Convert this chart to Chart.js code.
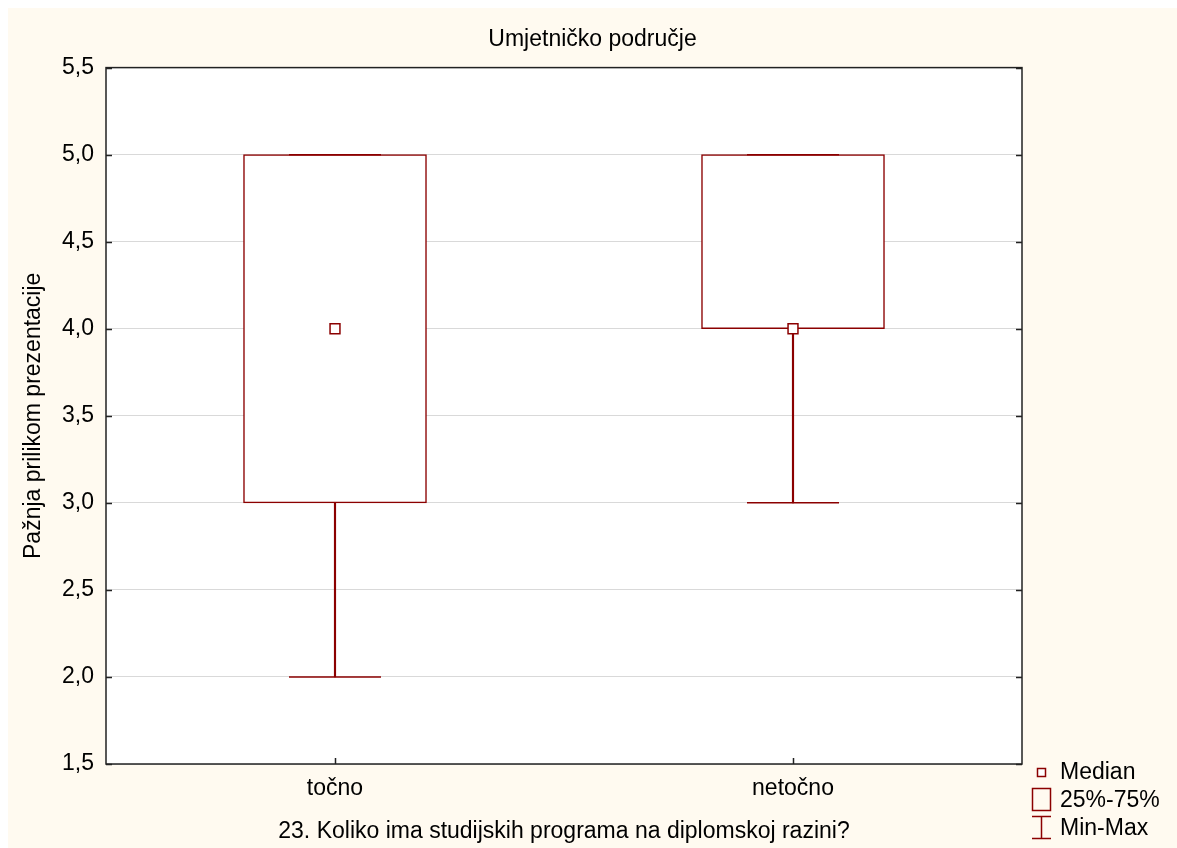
<!DOCTYPE html>
<html>
<head>
<meta charset="utf-8">
<script src="https://cdn.jsdelivr.net/npm/chart.js@4.4.1/dist/chart.umd.min.js"></script>
<style>
  html, body { margin: 0; padding: 0; background: #fff; }
  body { width: 1177px; height: 848px; position: relative; overflow: hidden; font-family: "Liberation Sans", Arial, sans-serif; }
  #bg { position: absolute; left: 8px; top: 8px; right: 0; bottom: 0; background: #fffaf0; }
  #wrap { position: absolute; left: 0; top: 0; width: 1177px; height: 848px; }
  .leg { position: absolute; left: 1030px; font-size: 23px; color: #000; line-height: 27px; height: 27px; }
  .leg svg { position: absolute; left: 0; top: 0; }
  .leg span { position: absolute; left: 30px; top: 0; white-space: nowrap; }
</style>
</head>
<body>
<div id="bg"></div>
<div id="wrap"><canvas id="chart" width="1177" height="848"></canvas></div>

<div class="leg" style="top:758px">
  <svg width="24" height="27"><rect x="7.5" y="10.5" width="8" height="8" fill="#fff" stroke="#8b0000" stroke-width="1.5"/></svg>
  <span>Median</span>
</div>
<div class="leg" style="top:786px">
  <svg width="24" height="27"><rect x="2.5" y="2.5" width="18" height="22" fill="none" stroke="#8b0000" stroke-width="1.5"/></svg>
  <span>25%-75%</span>
</div>
<div class="leg" style="top:814px">
  <svg width="24" height="27"><path d="M2 2.5 H21 M11.5 2.5 V24.5 M2 24.5 H21" fill="none" stroke="#8b0000" stroke-width="1.5"/></svg>
  <span>Min-Max</span>
</div>

<script>
// Umjetničko područje - box plot

const categories = ['točno', 'netočno'];
const mins = [2.0, 3.0];
const q1s = [3.0, 4.0];
const medians = [4.0, 4.0];
const q3s = [5.0, 5.0];
const maxs = [5.0, 5.0];
const yTicks = [1.5, 2.0, 2.5, 3.0, 3.5, 4.0, 4.5, 5.0, 5.5];

const RED = '#8b0000';
const FONT = '"Liberation Sans", Arial, sans-serif';

// white plot area, frame round it and short inward tick marks
const framePlugin = {
    id: 'frame',
    beforeDraw(chart) {
        const ctx = chart.ctx;
        const a = chart.chartArea;
        ctx.save();
        ctx.fillStyle = '#fff';
        ctx.fillRect(a.left, a.top, a.right - a.left, a.bottom - a.top);
        ctx.restore();
    },
    afterDraw(chart) {
        const ctx = chart.ctx;
        const a = chart.chartArea;
        const y = chart.scales.y;
        const x = chart.scales.x;
        ctx.save();
        ctx.strokeStyle = '#222';
        ctx.lineWidth = 1.5;
        ctx.strokeRect(a.left, a.top, a.right - a.left, a.bottom - a.top);
        ctx.beginPath();
        yTicks.forEach(function(v) {
            const py = Math.round(y.getPixelForValue(v)) + 0.5;
            ctx.moveTo(a.left, py);
            ctx.lineTo(a.left + 6, py);
            ctx.moveTo(a.right - 6, py);
            ctx.lineTo(a.right, py);
        });
        categories.forEach(function(c, i) {
            const px = Math.round(x.getPixelForValue(i)) + 0.5;
            ctx.moveTo(px, a.bottom);
            ctx.lineTo(px, a.bottom - 6);
        });
        ctx.stroke();
        ctx.restore();
    }
};

const ctx = document.getElementById('chart').getContext('2d');
new Chart(ctx, {
    type: 'bar',
    data: {
        labels: categories,
        datasets: [
            {
                // 25%-75% box
                type: 'bar',
                data: categories.map((c, i) => [q1s[i], q3s[i]]),
                backgroundColor: '#fff',
                borderColor: RED,
                borderWidth: 1.5,
                borderSkipped: false,
                barThickness: 183,
                grouped: false,
                order: 5
            },
            {
                // lower whisker
                type: 'bar',
                data: categories.map((c, i) => [mins[i], q1s[i]]),
                backgroundColor: RED,
                borderWidth: 0,
                barThickness: 1.5,
                grouped: false,
                order: 4
            },
            {
                // upper whisker
                type: 'bar',
                data: categories.map((c, i) => [q3s[i], maxs[i]]),
                backgroundColor: RED,
                borderWidth: 0,
                barThickness: 1.5,
                grouped: false,
                order: 4
            },
            {
                // min caps
                type: 'line',
                data: mins,
                showLine: false,
                pointStyle: 'line',
                pointRadius: 46,
                pointBorderColor: RED,
                pointBorderWidth: 1.5,
                order: 3
            },
            {
                // max caps
                type: 'line',
                data: maxs,
                showLine: false,
                pointStyle: 'line',
                pointRadius: 46,
                pointBorderColor: RED,
                pointBorderWidth: 1.5,
                order: 3
            },
            {
                // median
                type: 'line',
                data: medians,
                showLine: false,
                pointStyle: 'rect',
                pointRadius: 7,
                pointBackgroundColor: '#fff',
                pointBorderColor: RED,
                pointBorderWidth: 1.5,
                order: 1
            }
        ]
    },
    options: {
        responsive: false,
        animation: false,
        events: [],
        layout: {
            padding: { left: 8, top: 8, right: 0, bottom: 0 }
        },
        plugins: {
            legend: { display: false },
            tooltip: { enabled: false },
            title: {
                display: true,
                text: 'Umjetničko područje',
                color: '#000',
                font: { family: FONT, size: 23, weight: 'normal' },
                padding: { top: 18, bottom: 14 }
            }
        },
        scales: {
            x: {
                offset: true,
                grid: { display: false, drawTicks: false },
                border: { display: false },
                ticks: {
                    color: '#000',
                    font: { family: FONT, size: 23 },
                    padding: 11
                },
                title: {
                    display: true,
                    text: '23. Koliko ima studijskih programa na diplomskoj razini?',
                    color: '#000',
                    font: { family: FONT, size: 23 },
                    padding: { top: 0, bottom: 3 }
                },
                afterFit(scale) { scale.height = 84; }
            },
            y: {
                min: 1.5,
                max: 5.5,
                grid: { color: '#d9d9d9', lineWidth: 1, drawTicks: false },
                border: { display: false },
                afterBuildTicks(scale) {
                    scale.ticks = yTicks.map(v => ({ value: v }));
                },
                ticks: {
                    color: '#000',
                    font: { family: FONT, size: 23 },
                    padding: 12,
                    callback: v => Number(v).toFixed(1).replace('.', ',')
                },
                title: {
                    display: true,
                    text: 'Pažnja prilikom prezentacije',
                    color: '#000',
                    font: { family: FONT, size: 23 },
                    padding: { top: 12, bottom: 0 }
                },
                afterFit(scale) { scale.width = 98; }
            },
            // empty right-hand band that holds the legend
            yRight: {
                position: 'right',
                min: 1.5,
                max: 5.5,
                grid: { display: false, drawTicks: false },
                border: { display: false },
                ticks: { display: false },
                afterFit(scale) { scale.width = 155; }
            }
        }
    },
    plugins: [framePlugin]
});
</script>
</body>
</html>
